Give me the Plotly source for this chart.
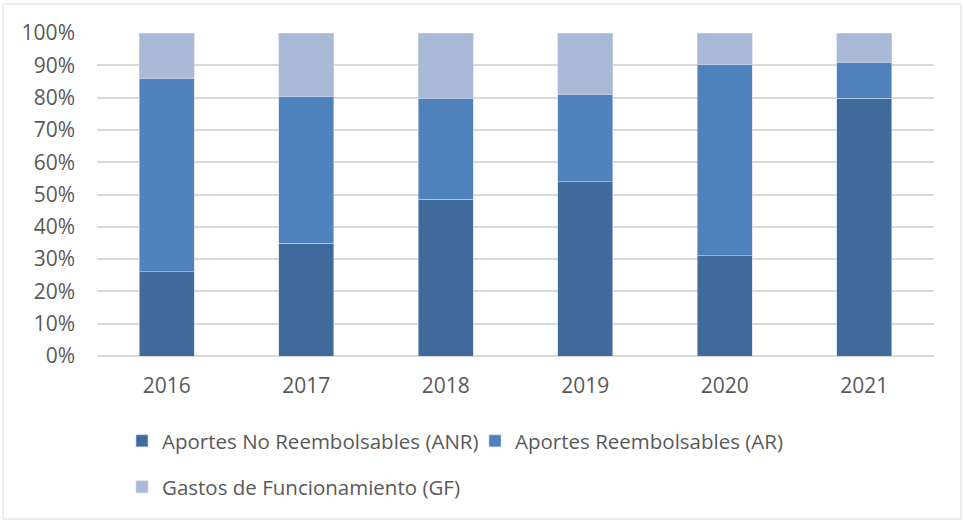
import plotly.graph_objects as go

years = ["2016", "2017", "2018", "2019", "2020", "2021"]
anr = [26.1, 34.9, 48.5, 54.0, 31.0, 79.8]
ar = [59.7, 45.3, 31.3, 27.0, 59.2, 11.2]
gf = [14.2, 19.8, 20.2, 19.0, 9.8, 9.0]
y_ticks = [0, 10, 20, 30, 40, 50, 60, 70, 80, 90, 100]
y_tick_labels = ["0%", "10%", "20%", "30%", "40%", "50%", "60%", "70%", "80%", "90%", "100%"]

names = ["Aportes No Reembolsables (ANR)", "Aportes Reembolsables (AR)", "Gastos de Funcionamiento (GF)"]
colors = ["#40699C", "#4F81BD", "#AAB9D7"]
font_family = "'Open Sans', sans-serif"
text_color = "#595959"
fs = 21
fs_leg = 20.5

fig = go.Figure()
for vals, name, col, leg in zip([anr, ar, gf], names, colors, ["legend", "legend", "legend2"]):
    fig.add_trace(go.Bar(
        x=years, y=vals, name=name, legend=leg,
        marker=dict(color=col, line=dict(color="#C9D4E8", width=0.6)),
        hoverinfo="x+y+name",
    ))

W, H = 963, 521
L, R, T, B = 97, 29, 33, 165
pw, ph = W - L - R, H - T - B

def px_x(p):
    return (p - L) / pw

def px_y(p):
    return (H - B - p) / ph

fig.update_layout(
    width=W, height=H,
    margin=dict(l=L, r=R, t=T, b=B, pad=0, autoexpand=False),
    barmode="stack",
    bargap=0.606,
    plot_bgcolor="white",
    paper_bgcolor="white",
    font=dict(family=font_family, size=fs, color=text_color),
    xaxis=dict(
        type="category", showgrid=False, showline=False, ticks="",
        tickfont=dict(size=fs, color=text_color),
        ticklabelstandoff=15,
    ),
    yaxis=dict(
        range=[0, 100], tickvals=y_ticks, ticktext=y_tick_labels,
        showgrid=True, gridcolor="#D9D9D9", gridwidth=1.5,
        zeroline=True, zerolinecolor="#D9D9D9", zerolinewidth=1.5,
        showline=False, ticks="",
        tickfont=dict(size=fs, color=text_color),
        ticklabelstandoff=21,
    ),
    legend=dict(
        orientation="h", x=px_x(122), y=px_y(441), xanchor="left", yanchor="middle",
        font=dict(size=fs_leg, color=text_color), bgcolor="rgba(0,0,0,0)",
        itemclick=False, itemdoubleclick=False, traceorder="normal",
        entrywidth=308, entrywidthmode="pixels",
    ),
    legend2=dict(
        orientation="h", x=px_x(122), y=px_y(487), xanchor="left", yanchor="middle",
        font=dict(size=fs_leg, color=text_color), bgcolor="rgba(0,0,0,0)",
        itemclick=False, itemdoubleclick=False,
    ),
    shapes=[dict(
        type="rect", xref="paper", yref="paper",
        x0=px_x(3), x1=px_x(961), y0=px_y(519), y1=px_y(4),
        line=dict(color="#D9D9D9", width=1), fillcolor="rgba(0,0,0,0)", layer="below",
    )],
    showlegend=True,
)

fig.write_html(
    "out.html",
    config={"displayModeBar": False},
    post_script="document.body.style.margin='0px';document.body.style.overflow='hidden';",
)
